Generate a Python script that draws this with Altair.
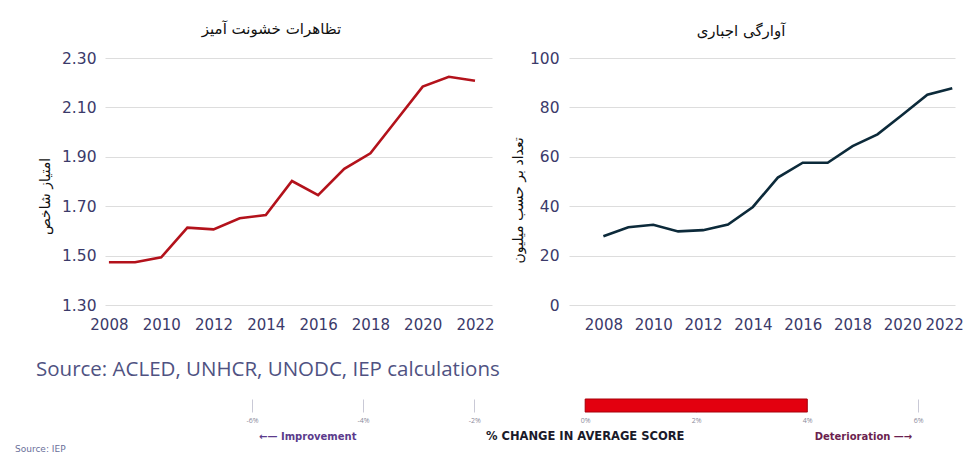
import altair as alt
import pandas as pd

# ---------------- data ----------------
years = list(range(2008, 2023))
violent_demonstrations = [1.473, 1.473, 1.493, 1.613, 1.606, 1.651, 1.664, 1.802,
                          1.745, 1.851, 1.914, 2.049, 2.184, 2.224, 2.208]
forcibly_displaced = [27.8, 31.5, 32.5, 29.8, 30.3, 32.6, 39.7, 51.6,
                      57.6, 57.6, 64.3, 69.1, 77.0, 85.1, 87.8]
year_ticks = [2008, 2010, 2012, 2014, 2016, 2018, 2020, 2022]
left_ticks = [1.30, 1.50, 1.70, 1.90, 2.10, 2.30]
right_ticks = [0, 20, 40, 60, 80, 100]
change_rows = ["score"]
change_start = [0.0]
change_end = [4.0]
pct_ticks = [-6, -4, -2, 0, 2, 4, 6]

left_title = "تظاهرات خشونت آمیز"
left_ytitle = "امتیاز شاخص"
right_title = "آوارگی اجباری"
right_ytitle = "تعداد بر حسب میلیون"
source_top = "Source: ACLED, UNHCR, UNODC, IEP calculations"
source_bottom = "Source: IEP"
note_left = "←— Improvement"
note_mid = "% CHANGE IN AVERAGE SCORE"
note_right = "Deterioration —→"

df = pd.DataFrame({"year": years, "violent": violent_demonstrations, "displaced": forcibly_displaced})
bar_df = pd.DataFrame({"row": change_rows, "start": change_start, "end": change_end})

LABEL_COLOR = "#3b3a6a"
LABEL_FONT = "DejaVu Sans"
PERSIAN_FONT = "DejaVu Sans"
NO_FRAME = alt.ViewBackground(stroke="transparent", strokeWidth=0)


def x_axis(**kw):
    return alt.Axis(values=year_ticks, format="d", grid=False, domain=False, ticks=False,
                    labelPadding=12, labelFontSize=15, labelColor=LABEL_COLOR,
                    labelFont=LABEL_FONT, title=None, labelOverlap=False, **kw)


left = alt.Chart(df).mark_line(color="#b3121b", strokeWidth=2.6).encode(
    x=alt.X("year:Q", scale=alt.Scale(domain=[2007.85, 2022.65], nice=False, zero=False), axis=x_axis()),
    y=alt.Y("violent:Q", scale=alt.Scale(domain=[1.30, 2.30], nice=False, zero=False),
            axis=alt.Axis(values=left_ticks, format=".2f", domain=False, ticks=False,
                          labelPadding=9, labelFontSize=15.5, labelColor=LABEL_COLOR,
                          labelFont=LABEL_FONT, title=left_ytitle, titleFont=PERSIAN_FONT,
                          titleFontSize=14, titleFontWeight="normal", titleColor="#111111",
                          titlePadding=9, titleY=138))
).properties(
    width=387, height=247, view=NO_FRAME,
    title=alt.TitleParams(left_title, font=PERSIAN_FONT, fontSize=15, fontWeight="normal",
                          color="#111111", anchor="middle", dx=-27, offset=14)
)

right = alt.Chart(df).mark_line(color="#0c2a3a", strokeWidth=2.6).encode(
    x=alt.X("year:Q", scale=alt.Scale(domain=[2006.62, 2022.11], nice=False, zero=False),
            axis=x_axis(labelFlush=10, labelFlushOffset=11)),
    y=alt.Y("displaced:Q", scale=alt.Scale(domain=[0, 100], nice=False),
            axis=alt.Axis(values=right_ticks, format="d", domain=False, ticks=False,
                          labelPadding=10, labelFontSize=15.5, labelColor=LABEL_COLOR,
                          labelFont=LABEL_FONT, title=right_ytitle, titleFont=PERSIAN_FONT,
                          titleFontSize=14, titleFontWeight="normal", titleColor="#111111",
                          titlePadding=4, titleY=142))
).properties(
    width=386, height=247, view=NO_FRAME,
    title=alt.TitleParams(right_title, font=PERSIAN_FONT, fontSize=15, fontWeight="normal",
                          color="#111111", anchor="middle", dx=-21, offset=12)
)

xscale = alt.Scale(domain=[-8.65, 6.68], nice=False, zero=False)

bar = alt.Chart(bar_df).mark_bar(color="#e3000f", stroke="#a8000a", strokeWidth=1).encode(
    x=alt.X("start:Q", scale=xscale,
            axis=alt.Axis(values=pct_ticks, labelExpr="datum.value + '%'", grid=True,
                          gridColor="#c9c9d6", gridWidth=1, domain=False, ticks=False,
                          labelPadding=4, labelFontSize=7, labelColor="#8a8a9a",
                          labelFont="Open Sans", title=None)),
    x2="end:Q",
    y=alt.Y("row:N", axis=None, scale=alt.Scale(paddingInner=0, paddingOuter=0))
)

improve = alt.Chart(bar_df).mark_text(align="left", baseline="middle", fontSize=10, dx=7,
                                      font="DejaVu Sans", fontWeight="bold", color="#5b3b8c").encode(
    x=alt.datum(-6), y=alt.value(38), text=alt.value(note_left))
middle = alt.Chart(bar_df).mark_text(align="center", baseline="middle", fontSize=11.5,
                                     font="DejaVu Sans", fontWeight="bold", color="#1a1a2a").encode(
    x=alt.datum(0), y=alt.value(38), text=alt.value(note_mid))
deteriorate = alt.Chart(bar_df).mark_text(align="right", baseline="middle", fontSize=10, dx=-6,
                                          font="DejaVu Sans", fontWeight="bold", color="#6b1f4f").encode(
    x=alt.datum(6), y=alt.value(38), text=alt.value(note_right))

bottom = alt.layer(bar, improve, middle, deteriorate).properties(
    width=851, height=13, view=NO_FRAME,
    title=alt.TitleParams(source_top, font="Open Sans", fontSize=20.5, fontWeight="normal",
                          color="#4f5282", anchor="start", frame="group", dx=-69, offset=18)
)

top_row = alt.hconcat(left, right, spacing=16)

chart = alt.vconcat(top_row, bottom, spacing=28).properties(
    padding={"left": 7, "top": 14, "right": 0, "bottom": 0},
    title=alt.TitleParams(source_bottom, orient="bottom", anchor="start", dx=-21, offset=2,
                          font="DejaVu Sans", fontSize=9, fontWeight="normal", color="#6a6f9a")
).configure_view(strokeWidth=0, stroke="transparent").configure_axis(
    gridColor="#d2d2d2", gridWidth=1.6
).configure(background="white")

chart.save("out.html", embed_options={"renderer": "svg", "actions": False})
